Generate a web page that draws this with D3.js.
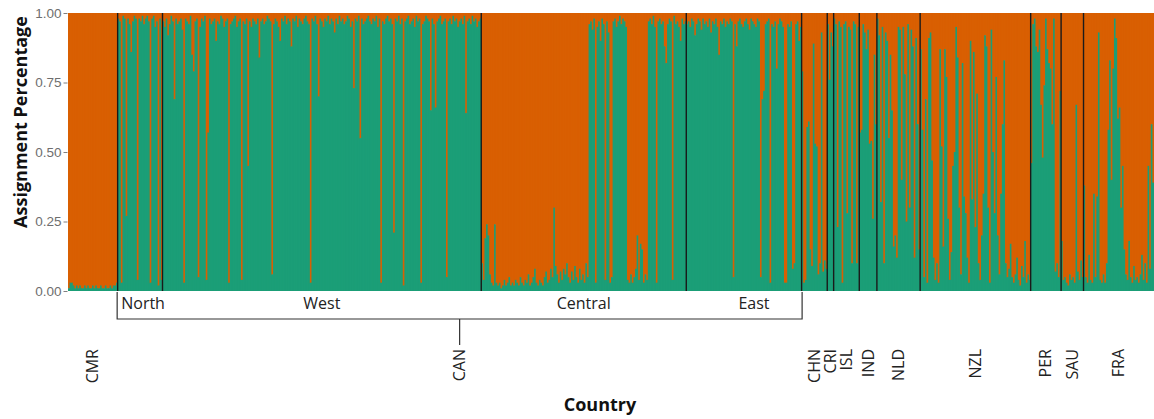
<!DOCTYPE html>
<html>
<head>
<meta charset="utf-8">
<script src="https://cdn.jsdelivr.net/npm/d3@7"></script>
<style>
  body { margin: 0; background: #fff; }
  svg { display: block; }
</style>
</head>
<body>
<svg id="chart"></svg>
<script>
// share of the green cluster per individual (percent)
const cmr = [1, 3, 3, 2, 1, 2, 1, 2, 1, 1, 2, 1, 2, 1, 1, 2, 1, 2, 1, 1, 2, 1, 1, 2, 1, 1, 2, 1, 2, 2, 3];
const north = [98, 97, 3, 99, 98, 27, 98, 96, 86, 97, 99, 98, 4, 98, 97, 99, 96, 98, 99, 97, 3, 98, 99, 95, 97, 2, 98, 4];
const west = [
  97, 95, 98, 92, 96, 99, 97, 69, 98, 96,
  97, 98, 94, 3, 98, 97, 96, 99, 85, 79,
  97, 98, 5, 95, 98, 97, 99, 4, 57, 98,
  96, 97, 98, 90, 97, 96, 99, 98, 95, 97,
  98, 3, 96, 97, 98, 99, 95, 97, 98, 4,
  97, 96, 98, 45, 97, 95, 98, 97, 96, 98,
  84, 97, 98, 96, 97, 99, 98, 97, 6, 96,
  98, 97, 95, 90, 98, 97, 99, 96, 98, 97,
  88, 98, 97, 99, 95, 98, 97, 96, 98, 99,
  97, 96, 3, 98, 97, 99, 96, 70, 98, 97,
  95, 98, 97, 99, 96, 98, 97, 93, 98, 96,
  99, 97, 98, 96, 97, 99, 98, 95, 97, 73,
  98, 97, 99, 55, 98, 96, 97, 98, 99, 97,
  96, 98, 97, 99, 95, 98, 3, 97, 96, 98,
  99, 97, 98, 96, 21, 98, 97, 99, 96, 98,
  2, 97, 98, 99, 96, 97, 98, 95, 99, 97,
  98, 3, 96, 97, 99, 98, 97, 65, 98, 96,
  66, 97, 98, 99, 96, 97, 98, 5, 97, 98,
  96, 99, 97, 98, 95, 97, 98, 96, 99, 64,
  97, 98, 96, 99, 97, 98, 95, 97, 98
];
const central = [
  10, 4, 19, 24, 20, 6, 3, 2, 24, 3,
  2, 3, 1, 2, 4, 2, 3, 5, 2, 3,
  2, 4, 3, 2, 5, 3, 2, 4, 3, 6,
  2, 3, 5, 8, 3, 2, 4, 3, 2, 5,
  7, 3, 4, 8, 5, 30, 9, 6, 3, 7,
  4, 8, 6, 10, 5, 3, 7, 4, 9, 5,
  3, 8, 4, 6, 3, 10, 5,
  96, 97, 94, 98, 3, 95, 97, 90, 98, 96, 4, 97, 93,
  3, 5,
  97, 98, 95, 97, 99, 96, 98, 97, 95,
  4, 3, 6, 3, 5, 8, 20, 4, 17, 15, 3, 6, 4,
  97, 98, 96, 99, 95, 3, 97, 98, 96, 97, 88, 82, 96, 98, 97, 4, 99, 96, 97, 95, 90, 98, 96, 97
];
const east = [
  96, 97, 95, 98, 97, 92, 96, 98, 97, 94,
  98, 96, 97, 95, 98, 93, 97, 96, 98, 95,
  85, 97, 96, 98, 95, 97, 96, 98, 97, 5,
  96, 88, 97, 98, 96, 95, 97, 98, 96, 94,
  98, 97, 96, 95, 98, 97, 5, 69, 72, 96,
  97, 98, 3, 96, 95, 97, 80, 96, 98, 97,
  95, 3, 3, 96, 95, 97, 8, 10, 96, 97, 90, 95
];
const chn = [79, 3, 4, 59, 61, 15, 9, 89, 53, 52, 6, 10, 93, 7, 11, 8];
const cri = [96, 76, 93, 88];
const isl = [98, 96, 23, 97, 95, 3, 96, 97, 28, 95, 94, 10, 97, 96, 10, 95];
const ind = [57, 58, 96, 93, 87, 94, 53, 54, 26, 85, 60];
const nld = [98, 92, 32, 95, 10, 93, 90, 55, 85, 65, 16, 20, 12, 95, 94, 40, 95, 78, 25, 96, 30, 94, 88, 12, 91, 60, 15];
const nzl = [
  87, 58, 5, 69, 3, 91, 93, 47, 12, 4,
  10, 3, 87, 52, 16, 87, 77, 26, 4, 14,
  45, 50, 95, 84, 30, 6, 82, 34, 28, 12,
  3, 90, 33, 86, 23, 71, 10, 4, 20, 35,
  92, 88, 30, 3, 94, 50, 28, 77, 20, 6,
  35, 60, 83, 10, 5, 8, 17, 5, 3, 6,
  12, 4, 2, 9, 5, 18, 3, 6, 4
];
const per = [46, 96, 98, 88, 86, 94, 67, 48, 74, 98, 87, 82, 80, 60, 98, 7, 10, 5, 72];
const sau = [18, 4, 5, 3, 2, 6, 4, 5, 3, 67, 7, 4, 11, 5];
const fra = [
  38, 5, 3, 13, 4, 3, 35, 5, 34, 93,
  4, 3, 6, 3, 10, 58, 83, 40, 80, 98,
  91, 62, 66, 30, 45, 15, 6, 4, 18, 5,
  3, 9, 4, 5, 3, 6, 13, 4, 10, 3,
  45, 8, 60, 39
];

const popNames = ["CMR", "North", "West", "Central", "East", "CHN", "CRI", "ISL", "IND", "NLD", "NZL", "PER", "SAU", "FRA"];
const popCountry = ["CMR", "CAN", "CAN", "CAN", "CAN", "CHN", "CRI", "ISL", "IND", "NLD", "NZL", "PER", "SAU", "FRA"];
const popValues = [cmr, north, west, central, east, chn, cri, isl, ind, nld, nzl, per, sau, fra];
const countries = ["CMR", "CAN", "CHN", "CRI", "ISL", "IND", "NLD", "NZL", "PER", "SAU", "FRA"];
const regions = ["North", "West", "Central", "East"];
const yTicks = [0, 0.25, 0.5, 0.75, 1];

const width = 1154;
const height = 419;
const plot = { left: 68, right: 1154, top: 13, bottom: 291 };
const green = "#1b9e77";
const orange = "#d95f02";

const svg = d3.select("#chart")
    .attr("width", width)
    .attr("height", height);

// flatten individuals, remember where each population starts/ends
const individuals = [];
const pops = popNames.map((name, p) => {
    const start = individuals.length;
    popValues[p].forEach(v => individuals.push({ pop: name, q: v / 100 }));
    return { name: name, country: popCountry[p], start: start, end: individuals.length };
});

const x = d3.scaleBand()
    .domain(d3.range(individuals.length))
    .range([plot.left, plot.right])
    .paddingInner(0)
    .paddingOuter(0);
const bw = x.bandwidth();
const y = d3.scaleLinear().domain([0, 1]).range([plot.bottom, plot.top]);

const popX0 = p => plot.left + p.start * bw;
const popX1 = p => plot.left + p.end * bw;

svg.append("defs").append("clipPath")
    .attr("id", "plot-clip")
    .append("rect")
    .attr("x", plot.left)
    .attr("y", plot.top)
    .attr("width", plot.right - plot.left)
    .attr("height", plot.bottom - plot.top);

const bars = svg.append("g").attr("clip-path", "url(#plot-clip)");

// each individual: green share at the bottom, orange share on top
// bars reach 1px into the next one, which is drawn over them -> no white seams
const indG = bars.selectAll(".ind")
    .data(individuals)
    .enter()
    .append("g")
    .attr("class", "ind");

indG.append("rect")
    .attr("x", (d, i) => x(i))
    .attr("y", y(1))
    .attr("width", bw + 1)
    .attr("height", d => y(d.q) - y(1) + 0.5)
    .attr("fill", orange);

indG.append("rect")
    .attr("x", (d, i) => x(i))
    .attr("y", d => y(d.q))
    .attr("width", bw + 1)
    .attr("height", d => y(0) - y(d.q))
    .attr("fill", green);

// population separators
svg.selectAll(".sep")
    .data(pops.slice(1))
    .enter()
    .append("line")
    .attr("class", "sep")
    .attr("x1", d => popX0(d))
    .attr("x2", d => popX0(d))
    .attr("y1", plot.top)
    .attr("y2", plot.bottom)
    .attr("stroke", "#1a1a1a")
    .attr("stroke-width", 1.4);

// y axis
const yAxis = svg.append("g")
    .attr("transform", `translate(${plot.left - 0.5},0)`)
    .call(d3.axisLeft(y).tickValues(yTicks).tickFormat(d3.format(".2f")).tickSize(4).tickPadding(2));
yAxis.select(".domain").remove();
yAxis.selectAll("line").attr("stroke", "#7f7f7f");
yAxis.selectAll("text")
    .attr("fill", "#6e6e6e")
    .style("font-family", "'Liberation Sans', Arial, sans-serif")
    .style("font-size", "13.5px");

svg.append("text")
    .attr("transform", `translate(27,122) rotate(-90)`)
    .attr("text-anchor", "middle")
    .style("font-family", "'Open Sans', sans-serif")
    .style("font-weight", "bold")
    .style("font-size", "18px")
    .attr("fill", "#111")
    .text("Assignment Percentage");

// bracket for the Canadian regions
const canPops = pops.filter(p => p.country === "CAN");
const bx0 = popX0(canPops[0]) - 0.5;
const bx1 = popX1(canPops[canPops.length - 1]) + 0.5;
const bracketY = 319;
svg.append("path")
    .attr("d", `M${bx0},${plot.bottom + 1}V${bracketY}H${bx1}V${plot.bottom + 1}`)
    .attr("fill", "none")
    .attr("stroke", "#333")
    .attr("stroke-width", 1.2);

svg.selectAll(".region-label")
    .data(canPops)
    .enter()
    .append("text")
    .attr("class", "region-label")
    .attr("x", d => (popX0(d) + popX1(d)) / 2 + (d.name === "East" ? 10 : d.name === "North" ? 3 : 0))
    .attr("y", 309)
    .attr("text-anchor", "middle")
    .style("font-family", "'Open Sans', sans-serif")
    .style("font-size", "16px")
    .attr("fill", "#222")
    .text(d => d.name);

// country labels
const countryInfo = countries.map(c => {
    const ps = pops.filter(p => p.country === c);
    return { name: c, x0: popX0(ps[0]), x1: popX1(ps[ps.length - 1]) };
});

svg.append("line")
    .attr("x1", (bx0 + bx1) / 2)
    .attr("x2", (bx0 + bx1) / 2)
    .attr("y1", bracketY)
    .attr("y2", 345)
    .attr("stroke", "#333")
    .attr("stroke-width", 1.2);

svg.selectAll(".country-label")
    .data(countryInfo)
    .enter()
    .append("text")
    .attr("class", "country-label")
    .attr("transform", d => `translate(${(d.x0 + d.x1) / 2},349) rotate(-90)`)
    .attr("text-anchor", "end")
    .attr("dy", "0.35em")
    .style("font-family", "'Open Sans', sans-serif")
    .style("font-size", "16px")
    .attr("fill", "#222")
    .text(d => d.name);

svg.append("text")
    .attr("x", 600)
    .attr("y", 411)
    .attr("text-anchor", "middle")
    .style("font-family", "'Open Sans', sans-serif")
    .style("font-weight", "bold")
    .style("font-size", "18px")
    .attr("fill", "#111")
    .text("Country");
</script>
</body>
</html>
